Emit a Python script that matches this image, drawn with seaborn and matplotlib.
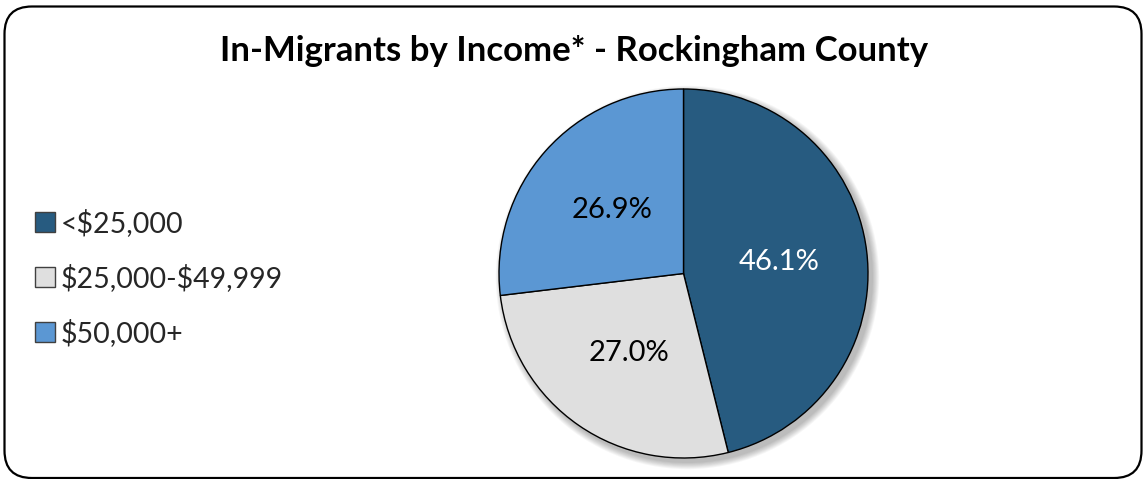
import matplotlib
matplotlib.use("Agg")
import matplotlib.pyplot as plt
import seaborn as sns
import numpy as np
from matplotlib.patches import Patch, Circle, FancyBboxPatch

# Income bracket shares of in-migrants
categories = ["<\\$25,000", "\\$25,000-\\$49,999", "\\$50,000+"]
shares = [46.1, 27.0, 26.9]
label_colors = ["white", "black", "black"]

sns.set_theme(style="white")
plt.rcParams["font.family"] = ["Lato", "DejaVu Sans"]

palette = ["#275B80", "#DFDFDF", "#5B97D3"]

W, H = 1143, 479
fig = plt.figure(figsize=(W / 100, H / 100), dpi=100)

# rounded outer frame
frame = FancyBboxPatch((4.5 / W, 1.0 / H), (W - 6.0) / W, (H - 7.5) / H,
                       boxstyle="round,pad=0,rounding_size=0.024",
                       transform=fig.transFigure, fill=False,
                       edgecolor="black", linewidth=1.6,
                       mutation_aspect=W / H)
fig.patches.append(frame)

fig.text(574 / W, 1 - 51 / H, "In-Migrants by Income* - Rockingham County",
         ha="center", va="center", fontsize=25, fontweight="bold", color="black")

# pie axes: radius 1 in data units, with margin for the shadow
cx, cy, r = 683.5, 273.5, 184.5
lim = 1.15
half = r * lim
ax = fig.add_axes([(cx - half) / W, (H - cy - half) / H, 2 * half / W, 2 * half / H])

# soft drop shadow behind the pie
px = 1.0 / r
for i in range(8):
    ax.add_patch(Circle((4 * px, -4 * px), 1.0 + (8 - i) * px * 0.9,
                        facecolor="black", edgecolor="none", alpha=0.035, zorder=0))

wedges, texts = ax.pie(shares, colors=palette, startangle=90, counterclock=False,
                       radius=1.0,
                       wedgeprops=dict(edgecolor="black", linewidth=1.0))
for w in wedges:
    w.set_zorder(2)

ax.set_xlim(-lim, lim)
ax.set_ylim(-lim, lim)
ax.set_aspect("equal")
ax.axis("off")

theta = 90.0
for val, col in zip(shares, label_colors):
    mid = np.deg2rad(theta - val * 3.6 / 2)
    theta -= val * 3.6
    ax.text(0.52 * np.cos(mid), 0.52 * np.sin(mid), f"{val:.1f}%",
            ha="center", va="center", fontsize=21, color=col, zorder=3)

handles = [Patch(facecolor=c, edgecolor="#404040", linewidth=1.0) for c in palette]
fig.legend(handles, categories, loc="center left",
           bbox_to_anchor=(24 / W, 1 - 278 / H), frameon=False,
           fontsize=20.5, handlelength=0.7, handleheight=0.7,
           handletextpad=0.2, labelspacing=0.95, borderaxespad=0)

fig.savefig("out.png", dpi=100, facecolor="white")
